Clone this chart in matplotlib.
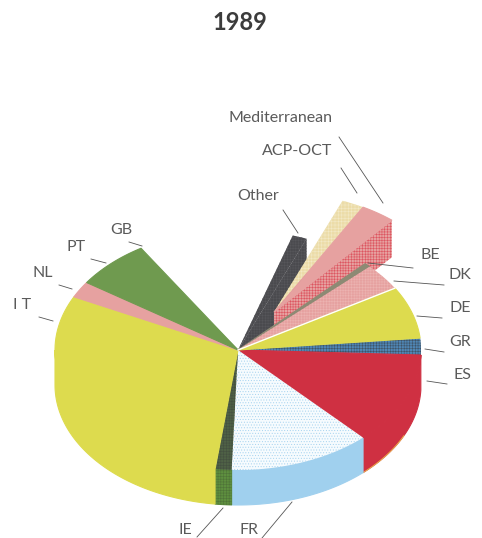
#!/usr/bin/env python3
# -*- coding: utf-8 -*-

import numpy as np
import matplotlib
matplotlib.use('Agg')
import matplotlib.pyplot as plt
from matplotlib.patches import Polygon

# slices, clockwise from the top of GR, sweep in degrees. '' = empty part of the circle
labels = ['GR', 'ES', 'FR', 'IE', 'IT', 'NL', 'PT', 'GB', '', 'Other', 'ACP-OCT', 'Mediterranean', '', 'BE', 'DK', 'DE']
sweep = [8.1, 44.5, 45.1, 5.2, 109.1, 7.9, 21.8, 2.0, 49.4, 4.6, 7.1, 11.0, 3.9, 2.0, 13.0, 25.3]
title = '1989'

# look of the slices
top_col = {'GR': '#4f86b5', 'ES': '#cf3042', 'FR': '#f6fbfe', 'IE': '#4f6146', 'IT': '#dddb4e',
           'NL': '#e6a1a0', 'PT': '#6f9a4f', 'GB': '#6f9a4f', 'Other': '#4a4a4e',
           'ACP-OCT': '#ecdca8', 'Mediterranean': '#e6a1a0', 'BE': '#8d8a74',
           'DK': '#e6a1a0', 'DE': '#dddb4e'}
top_hatch = {'GR': ('++++++', '#3f5468'), 'FR': ('......', '#a6d3ef'), 'IE': ('++++++', '#445040'),
             'ACP-OCT': ('+++++', '#f3e9c6'), 'DK': ('++++++', '#ecb3b1'), 'Other': ('++++++', '#56565a')}
wall_col = {'ES': '#cf3042', 'FR': '#a0d0ee', 'IE': '#5e8f3f', 'IT': '#dddb4e'}

# layout in pixels
cx, cy = 238, 350
rx, ry = 183, 120
depth = 35
start_angle = 5.7
apex_x, apex_y = 274, 312  # pulled out slices
lifted = ['ACP-OCT', 'Mediterranean']
text_pos = {'Mediterranean': (281, 118), 'ACP-OCT': (297, 151), 'Other': (258, 196), 'BE': (430, 255),
            'DK': (460, 275), 'DE': (460, 308), 'GR': (460, 342), 'ES': (462, 375), 'GB': (121, 230),
            'PT': (76, 247), 'NL': (43, 273), 'IT': (22, 305), 'IE': (185, 530), 'FR': (249, 530)}
leaders = {'Mediterranean': (339, 137, 383, 203), 'ACP-OCT': (341, 168, 357, 193), 'Other': (283, 210, 298, 233),
           'BE': (368, 263, 413, 268), 'DK': (394, 281, 444, 285), 'DE': (417, 316, 442, 318),
           'GR': (425, 349, 444, 352), 'ES': (427, 381, 447, 384), 'GB': (129, 242, 142, 246),
           'PT': (91, 259, 106, 263), 'NL': (59, 285, 72, 289), 'IT': (39, 317, 53, 321),
           'IE': (223, 508, 197, 537), 'FR': (292, 502, 262, 538)}

plt.rcParams['font.family'] = ['Lato', 'DejaVu Sans']
plt.rcParams['hatch.linewidth'] = 0.4


def arc(a1, a2, x0=cx, y0=cy):
    t = np.radians(np.linspace(a1, a2, 60))
    return np.column_stack([x0 + rx * np.cos(t), y0 - ry * np.sin(t)])


def add_poly(ax, pts, col, hatch=None, z=1):
    if hatch:
        ax.add_patch(Polygon(pts, closed=True, facecolor=col, edgecolor=hatch[1], hatch=hatch[0], lw=0, zorder=z))
    else:
        ax.add_patch(Polygon(pts, closed=True, facecolor=col, edgecolor=col, lw=0.8, zorder=z))


fig = plt.figure(figsize=(4.82, 5.38), dpi=100)
ax = fig.add_axes([0, 0, 1, 1])
ax.set_xlim(0, 482)
ax.set_ylim(538, 0)
ax.axis('off')

ends = start_angle - np.cumsum(sweep)
starts = ends + np.array(sweep)

for lab, a1, a2 in zip(labels, starts, ends):
    if lab == '':
        continue
    x0, y0 = (apex_x, apex_y) if lab in lifted else (cx, cy)
    rim = arc(a1, a2, x0, y0)
    z = 3
    if lab in ['Other']:
        z = 1
    if lab in lifted:
        z = 2

    # side walls at the front of the pie
    if lab in wall_col:
        low = max(a2, -180)
        wall = arc(a1, low)
        add_poly(ax, np.vstack([wall, (wall + [0, depth])[::-1]]), wall_col[lab], z=2)
        if lab == 'IE':
            add_poly(ax, np.vstack([wall, (wall + [0, depth])[::-1]]), wall_col[lab], ('++++++', '#4f7438'), z=2)
        if lab == 'ES':
            ax.plot(*(wall + [0, depth])[30:].T, color='#e8b04a', lw=0.7, zorder=2)
    # flat walls of the slices that stand up at the back
    if lab == 'Other':
        p = rim[-1]
        add_poly(ax, [(x0, y0), p, p + [0, depth], (x0, y0 + depth)], top_col[lab], top_hatch[lab], z=1)
    if lab == 'Mediterranean':
        p = rim[-1]
        add_poly(ax, [(x0, y0), p, p + [0, depth + 2], (x0, y0 + depth + 2)], '#e6a1a0', ('++++++', '#dd5560'), z=2)

    add_poly(ax, np.vstack([[(x0, y0)], rim]), top_col[lab], top_hatch.get(lab), z=z)

    if lab == 'DE':
        ax.plot([x0, rim[0][0]], [y0, rim[0][1]], color='white', lw=1.0, zorder=4)

for lab in text_pos:
    x, y = text_pos[lab]
    txt = 'I T' if lab == 'IT' else lab
    ax.text(x, y, txt, ha='center', va='center', fontsize=11.5, color='#5a5a5a', zorder=5)
    x1, y1, x2, y2 = leaders[lab]
    ax.plot([x1, x2], [y1, y2], color='#555555', lw=0.6, zorder=5)

ax.text(240, 22, title, ha='center', va='center', fontsize=17, fontweight='bold', color='#3c3c3c')

fig.savefig('out.png', dpi=100)
